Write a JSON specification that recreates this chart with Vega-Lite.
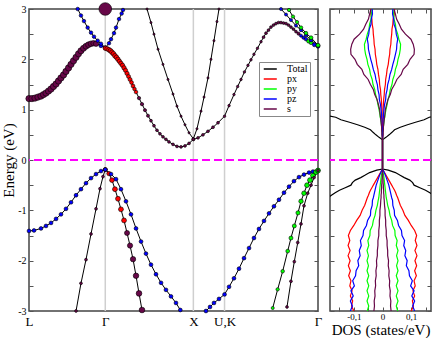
{
  "$schema": "https://vega.github.io/schema/vega-lite/v6.json",
  "padding": {"left": 0, "top": 0, "right": 6, "bottom": 0},
  "spacing": 12,
  "bounds": "flush",
  "config": {
    "font": "Liberation Serif",
    "view": {"stroke": "#444444", "strokeWidth": 1.5},
    "axis": {"grid": false, "domain": false, "labelFont": "Liberation Serif", "titleFont": "Liberation Serif", "labelColor": "#000000", "titleColor": "#000000", "titleFontWeight": "normal", "tickColor": "#555555", "tickWidth": 1},
    "legend": {"labelFont": "Liberation Serif", "labelFontSize": 10, "labelColor": "#000000"}
  },
  "datasets": {
    "kl": [{"k": 0.866}, {"k": 1.866}, {"k": 2.22}],
    "bands": [
      {"b":"c1","k":0,"E":1.22,"o":"s","w":0.25},
      {"b":"c1","k":0.034,"E":1.22,"o":"s","w":0.25},
      {"b":"c1","k":0.068,"E":1.23,"o":"s","w":0.25},
      {"b":"c1","k":0.102,"E":1.25,"o":"s","w":0.25},
      {"b":"c1","k":0.136,"E":1.27,"o":"s","w":0.25},
      {"b":"c1","k":0.165,"E":1.30,"o":"s","w":0.25},
      {"b":"c1","k":0.193,"E":1.33,"o":"s","w":0.25},
      {"b":"c1","k":0.222,"E":1.37,"o":"s","w":0.25},
      {"b":"c1","k":0.25,"E":1.41,"o":"s","w":0.25},
      {"b":"c1","k":0.278,"E":1.46,"o":"s","w":0.25},
      {"b":"c1","k":0.307,"E":1.51,"o":"s","w":0.25},
      {"b":"c1","k":0.335,"E":1.57,"o":"s","w":0.25},
      {"b":"c1","k":0.363,"E":1.63,"o":"s","w":0.25},
      {"b":"c1","k":0.392,"E":1.69,"o":"s","w":0.25},
      {"b":"c1","k":0.42,"E":1.76,"o":"s","w":0.25},
      {"b":"c1","k":0.449,"E":1.83,"o":"s","w":0.25},
      {"b":"c1","k":0.477,"E":1.90,"o":"s","w":0.25},
      {"b":"c1","k":0.505,"E":1.97,"o":"s","w":0.25},
      {"b":"c1","k":0.534,"E":2.04,"o":"s","w":0.25},
      {"b":"c1","k":0.562,"E":2.11,"o":"s","w":0.24},
      {"b":"c1","k":0.59,"E":2.17,"o":"s","w":0.24},
      {"b":"c1","k":0.619,"E":2.22,"o":"s","w":0.23},
      {"b":"c1","k":0.647,"E":2.26,"o":"s","w":0.22},
      {"b":"c1","k":0.675,"E":2.29,"o":"s","w":0.21},
      {"b":"c1","k":0.704,"E":2.31,"o":"s","w":0.2},
      {"b":"c1","k":0.733,"E":2.32,"o":"s","w":0.19},
      {"b":"c1","k":0.761,"E":2.31,"o":"s","w":0.18},
      {"b":"c1","k":0.817,"E":2.27,"o":"pz","w":0.1},
      {"b":"c1","k":0.866,"E":2.23,"o":"pz","w":0.08},
      {"b":"c2","k":0.553,"E":3.0,"o":"pz","w":0.08},
      {"b":"c2","k":0.59,"E":2.87,"o":"pz","w":0.08},
      {"b":"c2","k":0.624,"E":2.76,"o":"pz","w":0.08},
      {"b":"c2","k":0.666,"E":2.63,"o":"pz","w":0.08},
      {"b":"c2","k":0.704,"E":2.53,"o":"pz","w":0.08},
      {"b":"c2","k":0.738,"E":2.45,"o":"pz","w":0.08},
      {"b":"c2","k":0.78,"E":2.37,"o":"pz","w":0.08},
      {"b":"c2","k":0.817,"E":2.31,"o":"pz","w":0.08},
      {"b":"c2","k":0.866,"E":2.23,"o":"pz","w":0.08},
      {"b":"c3","k":0.866,"E":2.23,"o":"pz","w":0.08},
      {"b":"c3","k":0.908,"E":2.32,"o":"pz","w":0.08},
      {"b":"c3","k":0.931,"E":2.40,"o":"pz","w":0.08},
      {"b":"c3","k":0.965,"E":2.52,"o":"pz","w":0.08},
      {"b":"c3","k":0.988,"E":2.63,"o":"pz","w":0.08},
      {"b":"c3","k":1.022,"E":2.80,"o":"pz","w":0.08},
      {"b":"c3","k":1.052,"E":2.91,"o":"pz","w":0.08},
      {"b":"c3","k":1.067,"E":2.98,"o":"pz","w":0.08},
      {"b":"c4","k":0.866,"E":2.22,"o":"px","w":0.12},
      {"b":"c4","k":0.887,"E":2.21,"o":"px","w":0.13},
      {"b":"c4","k":0.908,"E":2.19,"o":"px","w":0.14},
      {"b":"c4","k":0.925,"E":2.17,"o":"px","w":0.14},
      {"b":"c4","k":0.942,"E":2.14,"o":"px","w":0.14},
      {"b":"c4","k":0.959,"E":2.11,"o":"px","w":0.14},
      {"b":"c4","k":0.976,"E":2.07,"o":"px","w":0.14},
      {"b":"c4","k":0.993,"E":2.04,"o":"px","w":0.13},
      {"b":"c4","k":1.01,"E":2.00,"o":"px","w":0.13},
      {"b":"c4","k":1.027,"E":1.96,"o":"px","w":0.12},
      {"b":"c4","k":1.044,"E":1.92,"o":"px","w":0.12},
      {"b":"c4","k":1.062,"E":1.88,"o":"px","w":0.12},
      {"b":"c4","k":1.079,"E":1.83,"o":"px","w":0.12},
      {"b":"c4","k":1.096,"E":1.78,"o":"px","w":0.11},
      {"b":"c4","k":1.113,"E":1.72,"o":"px","w":0.11},
      {"b":"c4","k":1.13,"E":1.66,"o":"px","w":0.1},
      {"b":"c4","k":1.147,"E":1.60,"o":"px","w":0.1},
      {"b":"c4","k":1.164,"E":1.54,"o":"px","w":0.09},
      {"b":"c4","k":1.181,"E":1.47,"o":"px","w":0.09},
      {"b":"c4","k":1.198,"E":1.41,"o":"px","w":0.08},
      {"b":"c4","k":1.215,"E":1.35,"o":"px","w":0.08},
      {"b":"c4","k":1.249,"E":1.23,"o":"s","w":0.07},
      {"b":"c4","k":1.283,"E":1.11,"o":"s","w":0.07},
      {"b":"c4","k":1.317,"E":0.99,"o":"s","w":0.06},
      {"b":"c4","k":1.351,"E":0.88,"o":"s","w":0.06},
      {"b":"c4","k":1.385,"E":0.78,"o":"s","w":0.05},
      {"b":"c4","k":1.419,"E":0.68,"o":"s","w":0.05},
      {"b":"c4","k":1.453,"E":0.59,"o":"s","w":0.05},
      {"b":"c4","k":1.487,"E":0.52,"o":"s","w":0.05},
      {"b":"c4","k":1.521,"E":0.46,"o":"s","w":0.05},
      {"b":"c4","k":1.555,"E":0.41,"o":"s","w":0.05},
      {"b":"c4","k":1.589,"E":0.36,"o":"s","w":0.05},
      {"b":"c4","k":1.635,"E":0.31,"o":"s","w":0.05},
      {"b":"c4","k":1.68,"E":0.27,"o":"s","w":0.05},
      {"b":"c4","k":1.726,"E":0.26,"o":"s","w":0.05},
      {"b":"c4","k":1.771,"E":0.28,"o":"s","w":0.05},
      {"b":"c4","k":1.817,"E":0.33,"o":"s","w":0.05},
      {"b":"c4","k":1.866,"E":0.41,"o":"s","w":0.05},
      {"b":"c5","k":1.34,"E":3.0,"o":"s","w":0.03},
      {"b":"c5","k":1.385,"E":2.73,"o":"s","w":0.03},
      {"b":"c5","k":1.419,"E":2.50,"o":"s","w":0.03},
      {"b":"c5","k":1.465,"E":2.20,"o":"s","w":0.03},
      {"b":"c5","k":1.521,"E":1.90,"o":"s","w":0.03},
      {"b":"c5","k":1.578,"E":1.60,"o":"s","w":0.03},
      {"b":"c5","k":1.635,"E":1.31,"o":"s","w":0.03},
      {"b":"c5","k":1.68,"E":1.07,"o":"s","w":0.03},
      {"b":"c5","k":1.726,"E":0.87,"o":"s","w":0.03},
      {"b":"c5","k":1.771,"E":0.70,"o":"s","w":0.03},
      {"b":"c5","k":1.817,"E":0.54,"o":"s","w":0.03},
      {"b":"c5","k":1.866,"E":0.42,"o":"s","w":0.03},
      {"b":"c6","k":1.866,"E":0.42,"o":"s","w":0.03},
      {"b":"c6","k":1.907,"E":0.62,"o":"s","w":0.03},
      {"b":"c6","k":1.953,"E":0.97,"o":"s","w":0.03},
      {"b":"c6","k":1.987,"E":1.25,"o":"s","w":0.03},
      {"b":"c6","k":2.032,"E":1.63,"o":"s","w":0.03},
      {"b":"c6","k":2.066,"E":2.00,"o":"s","w":0.03},
      {"b":"c6","k":2.1,"E":2.37,"o":"s","w":0.03},
      {"b":"c6","k":2.134,"E":2.75,"o":"s","w":0.03},
      {"b":"c6","k":2.157,"E":3.0,"o":"s","w":0.03},
      {"b":"c7","k":1.866,"E":0.41,"o":"s","w":0.05},
      {"b":"c7","k":1.919,"E":0.44,"o":"s","w":0.05},
      {"b":"c7","k":1.975,"E":0.50,"o":"s","w":0.05},
      {"b":"c7","k":2.032,"E":0.57,"o":"s","w":0.05},
      {"b":"c7","k":2.089,"E":0.65,"o":"s","w":0.05},
      {"b":"c7","k":2.146,"E":0.74,"o":"s","w":0.05},
      {"b":"c7","k":2.22,"E":0.87,"o":"s","w":0.04},
      {"b":"c7","k":2.271,"E":1.08,"o":"s","w":0.04},
      {"b":"c7","k":2.327,"E":1.30,"o":"s","w":0.04},
      {"b":"c7","k":2.369,"E":1.46,"o":"s","w":0.04},
      {"b":"c7","k":2.407,"E":1.60,"o":"s","w":0.04},
      {"b":"c7","k":2.446,"E":1.75,"o":"s","w":0.04},
      {"b":"c7","k":2.486,"E":1.88,"o":"s","w":0.04},
      {"b":"c7","k":2.52,"E":1.99,"o":"s","w":0.04},
      {"b":"c7","k":2.554,"E":2.10,"o":"s","w":0.04},
      {"b":"c7","k":2.594,"E":2.22,"o":"s","w":0.04},
      {"b":"c7","k":2.634,"E":2.35,"o":"s","w":0.04},
      {"b":"c7","k":2.663,"E":2.44,"o":"s","w":0.05},
      {"b":"c7","k":2.691,"E":2.52,"o":"s","w":0.05},
      {"b":"c7","k":2.719,"E":2.58,"o":"s","w":0.05},
      {"b":"c7","k":2.747,"E":2.64,"o":"s","w":0.05},
      {"b":"c7","k":2.776,"E":2.68,"o":"s","w":0.05},
      {"b":"c7","k":2.804,"E":2.71,"o":"s","w":0.05},
      {"b":"c7","k":2.833,"E":2.73,"o":"s","w":0.05},
      {"b":"c7","k":2.861,"E":2.73,"o":"s","w":0.05},
      {"b":"c7","k":2.89,"E":2.72,"o":"s","w":0.05},
      {"b":"c7","k":2.918,"E":2.71,"o":"s","w":0.05},
      {"b":"c7","k":2.946,"E":2.68,"o":"s","w":0.05},
      {"b":"c7","k":2.974,"E":2.64,"o":"s","w":0.05},
      {"b":"c7","k":3.003,"E":2.60,"o":"s","w":0.05},
      {"b":"c7","k":3.031,"E":2.55,"o":"s","w":0.05},
      {"b":"c7","k":3.06,"E":2.51,"o":"s","w":0.06},
      {"b":"c7","k":3.088,"E":2.47,"o":"pz","w":0.06},
      {"b":"c7","k":3.117,"E":2.43,"o":"pz","w":0.07},
      {"b":"c7","k":3.145,"E":2.40,"o":"pz","w":0.08},
      {"b":"c7","k":3.174,"E":2.36,"o":"py","w":0.09},
      {"b":"c7","k":3.202,"E":2.33,"o":"py","w":0.09},
      {"b":"c7","k":3.24,"E":2.29,"o":"pz","w":0.1},
      {"b":"c7","k":3.281,"E":2.26,"o":"pz","w":0.1},
      {"b":"c8","k":2.861,"E":3.0,"o":"pz","w":0.06},
      {"b":"c8","k":2.918,"E":2.89,"o":"pz","w":0.06},
      {"b":"c8","k":2.974,"E":2.78,"o":"pz","w":0.06},
      {"b":"c8","k":3.031,"E":2.67,"o":"pz","w":0.06},
      {"b":"c8","k":3.088,"E":2.58,"o":"pz","w":0.06},
      {"b":"c8","k":3.145,"E":2.48,"o":"pz","w":0.07},
      {"b":"c8","k":3.202,"E":2.38,"o":"pz","w":0.07},
      {"b":"c8","k":3.281,"E":2.27,"o":"pz","w":0.08},
      {"b":"c9","k":2.952,"E":2.98,"o":"py","w":0.07},
      {"b":"c9","k":2.997,"E":2.85,"o":"py","w":0.07},
      {"b":"c9","k":3.043,"E":2.74,"o":"py","w":0.07},
      {"b":"c9","k":3.088,"E":2.63,"o":"py","w":0.08},
      {"b":"c9","k":3.145,"E":2.52,"o":"py","w":0.08},
      {"b":"c9","k":3.202,"E":2.43,"o":"py","w":0.09},
      {"b":"c9","k":3.281,"E":2.28,"o":"py","w":0.1},
      {"b":"c10","k":0.866,"E":3.0,"o":"s","w":1.0},
      {"b":"v1","k":0,"E":-1.41,"o":"pz","w":0.09},
      {"b":"v1","k":0.057,"E":-1.40,"o":"pz","w":0.09},
      {"b":"v1","k":0.136,"E":-1.36,"o":"pz","w":0.09},
      {"b":"v1","k":0.193,"E":-1.31,"o":"pz","w":0.09},
      {"b":"v1","k":0.25,"E":-1.25,"o":"pz","w":0.09},
      {"b":"v1","k":0.307,"E":-1.17,"o":"pz","w":0.09},
      {"b":"v1","k":0.363,"E":-1.08,"o":"pz","w":0.09},
      {"b":"v1","k":0.42,"E":-0.97,"o":"pz","w":0.09},
      {"b":"v1","k":0.477,"E":-0.84,"o":"pz","w":0.09},
      {"b":"v1","k":0.534,"E":-0.70,"o":"pz","w":0.09},
      {"b":"v1","k":0.59,"E":-0.58,"o":"pz","w":0.09},
      {"b":"v1","k":0.647,"E":-0.46,"o":"pz","w":0.09},
      {"b":"v1","k":0.704,"E":-0.36,"o":"pz","w":0.09},
      {"b":"v1","k":0.761,"E":-0.28,"o":"pz","w":0.09},
      {"b":"v1","k":0.817,"E":-0.22,"o":"pz","w":0.09},
      {"b":"v1","k":0.866,"E":-0.19,"o":"pz","w":0.09},
      {"b":"v2","k":0.534,"E":-3.0,"o":"s","w":0.05},
      {"b":"v2","k":0.59,"E":-2.45,"o":"s","w":0.05},
      {"b":"v2","k":0.647,"E":-1.98,"o":"s","w":0.05},
      {"b":"v2","k":0.704,"E":-1.47,"o":"s","w":0.05},
      {"b":"v2","k":0.761,"E":-0.97,"o":"s","w":0.05},
      {"b":"v2","k":0.806,"E":-0.57,"o":"s","w":0.05},
      {"b":"v2","k":0.84,"E":-0.33,"o":"s","w":0.05},
      {"b":"v2","k":0.866,"E":-0.19,"o":"s","w":0.05},
      {"b":"v3","k":0.866,"E":-0.19,"o":"px","w":0.1},
      {"b":"v3","k":0.908,"E":-0.27,"o":"px","w":0.12},
      {"b":"v3","k":0.942,"E":-0.40,"o":"px","w":0.14},
      {"b":"v3","k":0.976,"E":-0.58,"o":"px","w":0.15},
      {"b":"v3","k":1.01,"E":-0.77,"o":"px","w":0.15},
      {"b":"v3","k":1.044,"E":-0.98,"o":"px","w":0.15},
      {"b":"v3","k":1.079,"E":-1.20,"o":"px","w":0.15},
      {"b":"v3","k":1.113,"E":-1.45,"o":"s","w":0.16},
      {"b":"v3","k":1.147,"E":-1.70,"o":"s","w":0.17},
      {"b":"v3","k":1.181,"E":-1.97,"o":"s","w":0.18},
      {"b":"v3","k":1.215,"E":-2.30,"o":"s","w":0.19},
      {"b":"v3","k":1.249,"E":-2.65,"o":"s","w":0.2},
      {"b":"v3","k":1.283,"E":-2.98,"o":"s","w":0.2},
      {"b":"v4","k":0.866,"E":-0.19,"o":"pz","w":0.09},
      {"b":"v4","k":0.931,"E":-0.28,"o":"pz","w":0.09},
      {"b":"v4","k":0.988,"E":-0.38,"o":"pz","w":0.09},
      {"b":"v4","k":1.044,"E":-0.58,"o":"pz","w":0.09},
      {"b":"v4","k":1.101,"E":-0.82,"o":"pz","w":0.09},
      {"b":"v4","k":1.158,"E":-1.08,"o":"pz","w":0.09},
      {"b":"v4","k":1.215,"E":-1.36,"o":"pz","w":0.09},
      {"b":"v4","k":1.272,"E":-1.62,"o":"pz","w":0.09},
      {"b":"v4","k":1.328,"E":-1.86,"o":"pz","w":0.09},
      {"b":"v4","k":1.385,"E":-2.08,"o":"pz","w":0.09},
      {"b":"v4","k":1.442,"E":-2.27,"o":"pz","w":0.09},
      {"b":"v4","k":1.499,"E":-2.44,"o":"pz","w":0.09},
      {"b":"v4","k":1.555,"E":-2.58,"o":"pz","w":0.09},
      {"b":"v4","k":1.612,"E":-2.71,"o":"pz","w":0.09},
      {"b":"v4","k":1.669,"E":-2.84,"o":"pz","w":0.09},
      {"b":"v4","k":1.718,"E":-2.98,"o":"pz","w":0.09},
      {"b":"v5","k":2.009,"E":-3.0,"o":"pz","w":0.09},
      {"b":"v5","k":2.055,"E":-2.92,"o":"pz","w":0.09},
      {"b":"v5","k":2.1,"E":-2.84,"o":"pz","w":0.09},
      {"b":"v5","k":2.157,"E":-2.76,"o":"pz","w":0.09},
      {"b":"v5","k":2.22,"E":-2.67,"o":"pz","w":0.09},
      {"b":"v5","k":2.271,"E":-2.52,"o":"pz","w":0.09},
      {"b":"v5","k":2.327,"E":-2.35,"o":"pz","w":0.09},
      {"b":"v5","k":2.384,"E":-2.16,"o":"pz","w":0.09},
      {"b":"v5","k":2.441,"E":-1.95,"o":"pz","w":0.09},
      {"b":"v5","k":2.498,"E":-1.75,"o":"pz","w":0.09},
      {"b":"v5","k":2.554,"E":-1.55,"o":"pz","w":0.09},
      {"b":"v5","k":2.611,"E":-1.37,"o":"pz","w":0.09},
      {"b":"v5","k":2.668,"E":-1.21,"o":"pz","w":0.09},
      {"b":"v5","k":2.725,"E":-1.06,"o":"pz","w":0.09},
      {"b":"v5","k":2.781,"E":-0.92,"o":"pz","w":0.09},
      {"b":"v5","k":2.838,"E":-0.79,"o":"pz","w":0.09},
      {"b":"v5","k":2.895,"E":-0.65,"o":"pz","w":0.09},
      {"b":"v5","k":2.952,"E":-0.53,"o":"pz","w":0.09},
      {"b":"v5","k":3.008,"E":-0.42,"o":"pz","w":0.09},
      {"b":"v5","k":3.065,"E":-0.34,"o":"pz","w":0.09},
      {"b":"v5","k":3.122,"E":-0.29,"o":"pz","w":0.09},
      {"b":"v5","k":3.179,"E":-0.25,"o":"pz","w":0.09},
      {"b":"v5","k":3.224,"E":-0.23,"o":"pz","w":0.09},
      {"b":"v5","k":3.281,"E":-0.21,"o":"pz","w":0.09},
      {"b":"v6","k":2.767,"E":-2.94,"o":"py","w":0.06},
      {"b":"v6","k":2.823,"E":-2.57,"o":"py","w":0.07},
      {"b":"v6","k":2.88,"E":-2.21,"o":"py","w":0.08},
      {"b":"v6","k":2.937,"E":-1.81,"o":"py","w":0.09},
      {"b":"v6","k":2.974,"E":-1.55,"o":"py","w":0.1},
      {"b":"v6","k":3.012,"E":-1.31,"o":"py","w":0.1},
      {"b":"v6","k":3.054,"E":-1.05,"o":"py","w":0.11},
      {"b":"v6","k":3.088,"E":-0.82,"o":"py","w":0.12},
      {"b":"v6","k":3.122,"E":-0.66,"o":"py","w":0.13},
      {"b":"v6","k":3.156,"E":-0.50,"o":"py","w":0.14},
      {"b":"v6","k":3.19,"E":-0.40,"o":"py","w":0.15},
      {"b":"v6","k":3.224,"E":-0.31,"o":"py","w":0.15},
      {"b":"v6","k":3.258,"E":-0.24,"o":"py","w":0.15},
      {"b":"v6","k":3.281,"E":-0.21,"o":"py","w":0.15},
      {"b":"v7","k":2.929,"E":-2.92,"o":"s","w":0.05},
      {"b":"v7","k":2.974,"E":-2.41,"o":"s","w":0.05},
      {"b":"v7","k":3.012,"E":-2.02,"o":"s","w":0.05},
      {"b":"v7","k":3.051,"E":-1.64,"o":"s","w":0.05},
      {"b":"v7","k":3.088,"E":-1.27,"o":"s","w":0.05},
      {"b":"v7","k":3.122,"E":-0.91,"o":"s","w":0.05},
      {"b":"v7","k":3.164,"E":-0.66,"o":"s","w":0.05},
      {"b":"v7","k":3.202,"E":-0.50,"o":"s","w":0.05},
      {"b":"v7","k":3.236,"E":-0.35,"o":"s","w":0.05},
      {"b":"v7","k":3.281,"E":-0.21,"o":"s","w":0.05}
    ],
    "dos": [
      {"E":-3.0,"Total":0.3,"px":0.100,"py":0.053,"pz":0.112,"s":0.030},
      {"E":-2.9,"Total":0.3,"px":0.108,"py":0.048,"pz":0.105,"s":0.028},
      {"E":-2.8,"Total":0.3,"px":0.104,"py":0.054,"pz":0.112,"s":0.029},
      {"E":-2.7,"Total":0.3,"px":0.112,"py":0.048,"pz":0.102,"s":0.026},
      {"E":-2.6,"Total":0.3,"px":0.106,"py":0.054,"pz":0.110,"s":0.027},
      {"E":-2.5,"Total":0.3,"px":0.114,"py":0.048,"pz":0.098,"s":0.024},
      {"E":-2.4,"Total":0.3,"px":0.110,"py":0.054,"pz":0.104,"s":0.025},
      {"E":-2.3,"Total":0.3,"px":0.118,"py":0.048,"pz":0.094,"s":0.022},
      {"E":-2.2,"Total":0.3,"px":0.112,"py":0.054,"pz":0.092,"s":0.023},
      {"E":-2.1,"Total":0.3,"px":0.119,"py":0.049,"pz":0.083,"s":0.020},
      {"E":-2.0,"Total":0.3,"px":0.113,"py":0.054,"pz":0.086,"s":0.021},
      {"E":-1.9,"Total":0.3,"px":0.120,"py":0.049,"pz":0.078,"s":0.018},
      {"E":-1.8,"Total":0.3,"px":0.113,"py":0.054,"pz":0.081,"s":0.018},
      {"E":-1.7,"Total":0.3,"px":0.120,"py":0.048,"pz":0.074,"s":0.016},
      {"E":-1.6,"Total":0.3,"px":0.114,"py":0.051,"pz":0.077,"s":0.016},
      {"E":-1.5,"Total":0.3,"px":0.119,"py":0.044,"pz":0.068,"s":0.013},
      {"E":-1.4,"Total":0.3,"px":0.112,"py":0.043,"pz":0.066,"s":0.013},
      {"E":-1.3,"Total":0.3,"px":0.100,"py":0.035,"pz":0.056,"s":0.011},
      {"E":-1.2,"Total":0.3,"px":0.090,"py":0.032,"pz":0.052,"s":0.011},
      {"E":-1.1,"Total":0.3,"px":0.078,"py":0.026,"pz":0.042,"s":0.009},
      {"E":-1.0,"Total":0.26,"px":0.071,"py":0.023,"pz":0.041,"s":0.009},
      {"E":-0.9,"Total":0.23,"px":0.062,"py":0.018,"pz":0.036,"s":0.007},
      {"E":-0.8,"Total":0.205,"px":0.056,"py":0.015,"pz":0.035,"s":0.006},
      {"E":-0.75,"Total":0.19,"px":0.053,"py":0.013,"pz":0.032,"s":0.005},
      {"E":-0.7,"Total":0.178,"px":0.049,"py":0.012,"pz":0.030,"s":0.005},
      {"E":-0.65,"Total":0.165,"px":0.046,"py":0.011,"pz":0.028,"s":0.004},
      {"E":-0.6,"Total":0.15,"px":0.042,"py":0.010,"pz":0.026,"s":0.004},
      {"E":-0.55,"Total":0.13,"px":0.037,"py":0.009,"pz":0.024,"s":0.003},
      {"E":-0.5,"Total":0.11,"px":0.032,"py":0.008,"pz":0.022,"s":0.003},
      {"E":-0.45,"Total":0.105,"px":0.027,"py":0.007,"pz":0.019,"s":0.002},
      {"E":-0.4,"Total":0.095,"px":0.022,"py":0.006,"pz":0.016,"s":0.002},
      {"E":-0.35,"Total":0.076,"px":0.017,"py":0.005,"pz":0.013,"s":0.001},
      {"E":-0.3,"Total":0.06,"px":0.012,"py":0.004,"pz":0.010,"s":0.001},
      {"E":-0.25,"Total":0.045,"px":0.007,"py":0.002,"pz":0.006,"s":0.0},
      {"E":-0.2,"Total":0.02,"px":0.002,"py":0.001,"pz":0.002,"s":0.0},
      {"E":-0.18,"Total":0.0,"px":0.0,"py":0.0,"pz":0.0,"s":0.0},
      {"E":0.0,"Total":0.0,"px":0.0,"py":0.0,"pz":0.0,"s":0.0},
      {"E":0.2,"Total":0.0,"px":0.0,"py":0.0,"pz":0.0,"s":0.0},
      {"E":0.4,"Total":0.0,"px":0.0,"py":0.0,"pz":0.0,"s":0.0},
      {"E":0.45,"Total":0.012,"px":0.0,"py":0.0,"pz":0.0,"s":0.001},
      {"E":0.5,"Total":0.023,"px":0.0,"py":0.001,"pz":0.001,"s":0.002},
      {"E":0.55,"Total":0.033,"px":0.0,"py":0.001,"pz":0.001,"s":0.002},
      {"E":0.6,"Total":0.042,"px":0.001,"py":0.002,"pz":0.001,"s":0.003},
      {"E":0.65,"Total":0.062,"px":0.001,"py":0.003,"pz":0.001,"s":0.003},
      {"E":0.7,"Total":0.087,"px":0.001,"py":0.004,"pz":0.002,"s":0.004},
      {"E":0.75,"Total":0.115,"px":0.001,"py":0.005,"pz":0.002,"s":0.005},
      {"E":0.8,"Total":0.145,"px":0.001,"py":0.006,"pz":0.002,"s":0.006},
      {"E":0.85,"Total":0.163,"px":0.002,"py":0.008,"pz":0.003,"s":0.007},
      {"E":0.9,"Total":0.21,"px":0.002,"py":0.009,"pz":0.003,"s":0.008},
      {"E":1.0,"Total":0.3,"px":0.002,"py":0.012,"pz":0.005,"s":0.010},
      {"E":1.1,"Total":0.3,"px":0.003,"py":0.016,"pz":0.007,"s":0.014},
      {"E":1.2,"Total":0.3,"px":0.004,"py":0.019,"pz":0.011,"s":0.019},
      {"E":1.3,"Total":0.3,"px":0.006,"py":0.024,"pz":0.012,"s":0.027},
      {"E":1.4,"Total":0.3,"px":0.007,"py":0.027,"pz":0.016,"s":0.032},
      {"E":1.5,"Total":0.3,"px":0.010,"py":0.033,"pz":0.018,"s":0.042},
      {"E":1.6,"Total":0.3,"px":0.011,"py":0.036,"pz":0.023,"s":0.050},
      {"E":1.7,"Total":0.3,"px":0.014,"py":0.042,"pz":0.026,"s":0.065},
      {"E":1.8,"Total":0.3,"px":0.016,"py":0.045,"pz":0.032,"s":0.072},
      {"E":1.9,"Total":0.3,"px":0.020,"py":0.051,"pz":0.036,"s":0.088},
      {"E":2.0,"Total":0.3,"px":0.022,"py":0.054,"pz":0.041,"s":0.096},
      {"E":2.1,"Total":0.3,"px":0.025,"py":0.059,"pz":0.045,"s":0.110},
      {"E":2.2,"Total":0.3,"px":0.026,"py":0.062,"pz":0.049,"s":0.111},
      {"E":2.3,"Total":0.3,"px":0.029,"py":0.063,"pz":0.050,"s":0.107},
      {"E":2.4,"Total":0.3,"px":0.030,"py":0.057,"pz":0.053,"s":0.099},
      {"E":2.5,"Total":0.3,"px":0.032,"py":0.053,"pz":0.048,"s":0.080},
      {"E":2.6,"Total":0.3,"px":0.033,"py":0.047,"pz":0.046,"s":0.066},
      {"E":2.7,"Total":0.3,"px":0.036,"py":0.045,"pz":0.040,"s":0.058},
      {"E":2.8,"Total":0.3,"px":0.037,"py":0.040,"pz":0.039,"s":0.049},
      {"E":2.9,"Total":0.3,"px":0.041,"py":0.039,"pz":0.035,"s":0.045},
      {"E":3.0,"Total":0.3,"px":0.042,"py":0.035,"pz":0.036,"s":0.040}
    ]
  },
  "hconcat": [
    {
      "width": 289,
      "height": 302,
      "layer": [
        {
          "data": {"name": "kl"},
          "mark": {"type": "rule", "color": "#cfcfcf", "strokeWidth": 1.5},
          "encoding": {
            "x": {"field": "k", "type": "quantitative", "scale": {"domain": [0, 3.281], "nice": false, "zero": false},
              "axis": {"orient": "bottom", "values": [0, 0.866, 1.866, 2.22, 3.281], "labelExpr": "datum.value < 0.1 ? 'L' : datum.value < 1 ? 'Γ' : datum.value < 2 ? 'X' : datum.value < 3 ? 'U,K' : 'Γ'", "ticks": false, "labelPadding": 4, "labelFontSize": 13, "labelFont": "Liberation Serif", "labelFlush": false, "labelOverlap": false, "title": null}}
          }
        },
        {
          "data": {"values": [{}]},
          "mark": {"type": "rule", "color": "#ff00ff", "strokeWidth": 2, "strokeDash": [8, 4]},
          "encoding": {
            "y": {"datum": 0, "type": "quantitative", "scale": {"domain": [-3, 3], "nice": false, "zero": false},
              "axis": {"orient": "right", "values": [-3, -2.5, -2, -1.5, -1, -0.5, 0, 0.5, 1, 1.5, 2, 2.5, 3], "labels": false, "tickSize": -4, "title": null}}
          }
        },
        {
          "data": {"name": "bands"},
          "mark": {"type": "line", "color": "#000000", "strokeWidth": 1},
          "encoding": {
            "x": {"field": "k", "type": "quantitative", "scale": {"domain": [0, 3.281], "nice": false, "zero": false}, "axis": null},
            "y": {"field": "E", "type": "quantitative", "scale": {"domain": [-3, 3], "nice": false, "zero": false},
              "axis": {"orient": "left", "values": [-3, -2.5, -2, -1.5, -1, -0.5, 0, 0.5, 1, 1.5, 2, 2.5, 3], "labelExpr": "datum.value % 1 === 0 ? '' + datum.value : ''", "tickSize": -4, "labelPadding": 7, "labelFontSize": 10, "labelFont": "Liberation Serif", "title": "Energy (eV)", "titleFont": "Liberation Serif", "titleFontSize": 15, "titlePadding": 1}},
            "detail": {"field": "b", "type": "nominal"}
          }
        },
        {
          "data": {"name": "bands"},
          "mark": {"type": "circle", "stroke": "#000000", "strokeWidth": 0.6, "opacity": 1},
          "encoding": {
            "x": {"field": "k", "type": "quantitative", "axis": null},
            "y": {"field": "E", "type": "quantitative", "axis": null},
            "fill": {"field": "o", "type": "nominal", "scale": {"domain": ["px", "py", "pz", "s"], "range": ["#ff0000", "#00ff00", "#0000ff", "#670748"]}, "legend": null},
            "size": {"field": "w", "type": "quantitative", "scale": {"domain": [0, 1], "range": [0, 160]}, "legend": null}
          }
        }
      ],
      "resolve": {"axis": {"x": "independent", "y": "independent"}}
    },
    {
      "width": 101,
      "height": 302,
      "layer": [
        {
          "data": {"values": [{}]},
          "mark": {"type": "rule", "color": "#ff00ff", "strokeWidth": 2, "strokeDash": [8, 4]},
          "encoding": {
            "y": {"datum": 0, "type": "quantitative", "scale": {"domain": [-3, 3], "nice": false, "zero": false},
              "axis": {"orient": "left", "values": [-3, -2.5, -2, -1.5, -1, -0.5, 0, 0.5, 1, 1.5, 2, 2.5, 3], "labels": false, "tickSize": -4, "title": null}}
          }
        },
        {
          "data": {"name": "dos"},
          "transform": [{"fold": ["Total", "px", "py", "pz", "s"], "as": ["orb", "dos"]}],
          "mark": {"type": "line", "strokeWidth": 1.2, "clip": true},
          "encoding": {
            "x": {"field": "dos", "type": "quantitative", "scale": {"domain": [-0.183, 0.169], "nice": false, "zero": false},
              "axis": {"orient": "bottom", "values": [-0.15, -0.1, -0.05, 0, 0.05, 0.1, 0.15], "labelExpr": "abs(datum.value - 0.1) < 1e-6 ? '0,1' : abs(datum.value + 0.1) < 1e-6 ? '-0,1' : abs(datum.value) < 1e-6 ? '0' : ''", "tickSize": -4, "labelPadding": 5, "labelFontSize": 9, "labelFont": "Liberation Serif", "labelFlush": false, "labelOverlap": false, "title": "DOS (states/eV)", "titleFont": "Liberation Serif", "titleFontSize": 15, "titlePadding": 1}},
            "y": {"field": "E", "type": "quantitative", "scale": {"domain": [-3, 3], "nice": false, "zero": false},
              "axis": {"orient": "right", "values": [-3, -2.5, -2, -1.5, -1, -0.5, 0, 0.5, 1, 1.5, 2, 2.5, 3], "labels": false, "tickSize": -4, "title": null}},
            "color": {"field": "orb", "type": "nominal", "scale": {"domain": ["Total", "px", "py", "pz", "s"], "range": ["#000000", "#ff0000", "#00ff00", "#0000ff", "#670748"]},
              "legend": {"orient": "none", "legendX": 230, "legendY": 53, "title": null, "symbolType": "M-0.75,0H3.6", "symbolSize": 36, "symbolStrokeWidth": 1.5, "labelOffset": 16, "padding": 2, "rowPadding": 0, "labelFontSize": 10, "labelFont": "Liberation Serif", "strokeColor": "#888888", "fillColor": "#ffffff"}},
            "order": {"field": "E", "type": "quantitative"}
          }
        },
        {
          "data": {"name": "dos"},
          "transform": [{"fold": ["Total", "px", "py", "pz", "s"], "as": ["orb", "dos"]}],
          "mark": {"type": "line", "strokeWidth": 1.2, "clip": true},
          "encoding": {
            "x": {"field": "dos", "type": "quantitative", "scale": {"domain": [0.183, -0.169], "nice": false, "zero": false},
              "axis": {"orient": "top", "values": [-0.15, -0.1, -0.05, 0, 0.05, 0.1, 0.15], "labels": false, "tickSize": -4, "title": null}},
            "y": {"field": "E", "type": "quantitative", "axis": null},
            "color": {"field": "orb", "type": "nominal"},
            "order": {"field": "E", "type": "quantitative"}
          }
        }
      ],
      "resolve": {"scale": {"x": "independent"}, "axis": {"x": "independent", "y": "independent"}}
    }
  ]
}
